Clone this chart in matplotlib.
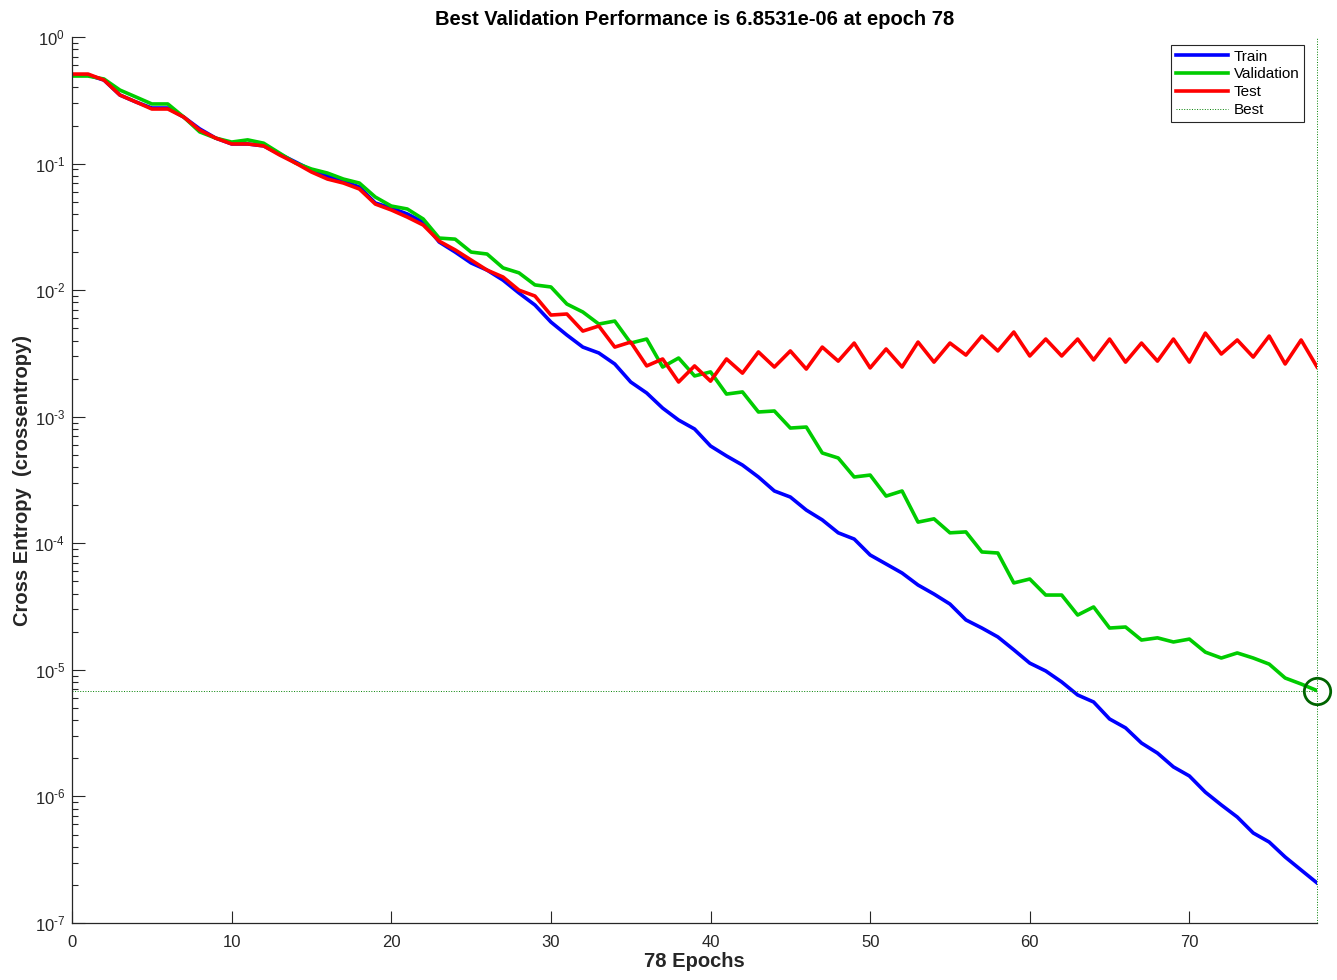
"""Training performance plot (cross entropy per epoch, log scale)."""

import numpy as np
import matplotlib

matplotlib.use("Agg")

import matplotlib.pyplot as plt
from matplotlib.ticker import LogLocator, FixedLocator, NullFormatter, FuncFormatter

plt.rcParams["font.family"] = ["Liberation Sans", "DejaVu Sans"]
plt.rcParams["mathtext.fontset"] = "custom"
plt.rcParams["mathtext.rm"] = "Liberation Sans"
plt.rcParams["axes.unicode_minus"] = False

# epoch-by-epoch cross entropy
train = [
    0.501, 0.501, 0.457, 0.348, 0.307, 0.275, 0.275, 0.233, 0.188, 0.159,
    0.143, 0.143, 0.138, 0.119, 0.103, 0.0889, 0.0797, 0.0728, 0.0653, 0.0488,
    0.0446, 0.0400, 0.0345, 0.0240, 0.0200, 0.0164, 0.0144, 0.0120, 0.00949, 0.00763,
    0.00560, 0.00442, 0.00355, 0.00319, 0.00261, 0.00188, 0.00154, 0.00117, 0.000941, 0.000800,
    0.000587, 0.000490, 0.000415, 0.000334, 0.000259, 0.000232, 0.000183, 0.000153, 0.000121, 0.000108,
    8.08e-5, 6.86e-5, 5.82e-5, 4.68e-5, 3.97e-5, 3.31e-5, 2.48e-5, 2.14e-5, 1.82e-5, 1.44e-5,
    1.13e-5, 9.80e-6, 8.02e-6, 6.33e-6, 5.57e-6, 4.09e-6, 3.48e-6, 2.64e-6, 2.20e-6, 1.71e-6,
    1.45e-6, 1.08e-6, 8.56e-7, 6.87e-7, 5.14e-7, 4.36e-7, 3.32e-7, 2.62e-7, 2.07e-7,
]
validation = [
    0.492, 0.492, 0.466, 0.381, 0.336, 0.296, 0.296, 0.233, 0.178, 0.159,
    0.148, 0.154, 0.145, 0.121, 0.101, 0.0906, 0.0842, 0.0755, 0.0702, 0.0544,
    0.0462, 0.0438, 0.0365, 0.0258, 0.0253, 0.0200, 0.0193, 0.0150, 0.0137, 0.0110,
    0.0106, 0.00777, 0.00672, 0.00540, 0.00570, 0.00382, 0.00411, 0.00247, 0.00291, 0.00210,
    0.00226, 0.00151, 0.00157, 0.00109, 0.00111, 0.000814, 0.000829, 0.000517, 0.000472, 0.000334,
    0.000346, 0.000236, 0.000259, 0.000147, 0.000156, 0.000121, 0.000123, 8.54e-5, 8.38e-5, 4.86e-5,
    5.22e-5, 3.90e-5, 3.90e-5, 2.71e-5, 3.14e-5, 2.14e-5, 2.18e-5, 1.72e-5, 1.79e-5, 1.66e-5,
    1.75e-5, 1.38e-5, 1.24e-5, 1.36e-5, 1.24e-5, 1.11e-5, 8.62e-6, 7.73e-6, 6.8531e-6,
]
test = [
    0.510, 0.510, 0.457, 0.348, 0.307, 0.270, 0.270, 0.233, 0.184, 0.159,
    0.143, 0.143, 0.138, 0.117, 0.101, 0.0858, 0.0755, 0.0702, 0.0630, 0.0479,
    0.0430, 0.0378, 0.0327, 0.0244, 0.0208, 0.0173, 0.0144, 0.0127, 0.0100, 0.00899,
    0.00636, 0.00648, 0.00475, 0.00521, 0.00355, 0.00389, 0.00252, 0.00286, 0.00188, 0.00252,
    0.00191, 0.00286, 0.00221, 0.00325, 0.00247, 0.00331, 0.00238, 0.00355, 0.00275, 0.00382,
    0.00243, 0.00343, 0.00247, 0.00389, 0.00270, 0.00382, 0.00307, 0.00434, 0.00331, 0.00467,
    0.00302, 0.00411, 0.00302, 0.00411, 0.00281, 0.00411, 0.00270, 0.00382, 0.00275, 0.00411,
    0.00270, 0.00458, 0.00313, 0.00404, 0.00296, 0.00434, 0.00261, 0.00404, 0.00247,
]
best_epoch = 78
best_perf = 6.8531e-06
x_ticks = [0, 10, 20, 30, 40, 50, 60, 70]

epochs = np.arange(len(train))
axis_color = "#262626"
best_color = "#008000"


def _pow10(value, _pos):
    # MATLAB-style 10^n with a plain hyphen in the exponent
    exp = int(round(np.log10(value)))
    sign = r"\text{-}" if exp < 0 else ""
    return rf"$\mathdefault{{10^{{{sign}{abs(exp)}}}}}$"


fig = plt.figure(figsize=(13.37, 9.8), dpi=100)
ax = fig.add_axes([0.0539, 0.0582, 0.9312, 0.904])

ax.semilogy(epochs, train, color="#0000ff", lw=2.6, label="Train")
ax.semilogy(epochs, validation, color="#00cc00", lw=2.6, label="Validation")
ax.semilogy(epochs, test, color="#ff0000", lw=2.6, label="Test")

# best-validation guides
ax.axhline(best_perf, color=best_color, lw=0.7, ls=":", label="Best")
ax.axvline(best_epoch, color=best_color, lw=0.7, ls=":", clip_on=False)
ax.plot([best_epoch], [best_perf], "o", mfc="none", mec="#006400",
        ms=19, mew=2, clip_on=False)

ax.set_xlim(0, 78)
ax.set_ylim(1e-7, 1)
ax.xaxis.set_major_locator(FixedLocator(x_ticks))
ax.yaxis.set_major_locator(LogLocator(base=10, numticks=10))
ax.yaxis.set_major_formatter(FuncFormatter(_pow10))
ax.yaxis.set_minor_locator(LogLocator(base=10, subs=np.arange(2, 10), numticks=20))
ax.yaxis.set_minor_formatter(NullFormatter())

for side in ("top", "right"):
    ax.spines[side].set_visible(False)
for side in ("left", "bottom"):
    ax.spines[side].set_color(axis_color)
    ax.spines[side].set_linewidth(0.9)
ax.tick_params(which="major", direction="in", length=9, width=0.8,
               colors=axis_color, labelsize=12)
ax.tick_params(which="minor", direction="in", length=4.5, width=0.8,
               colors=axis_color)
ax.tick_params(axis="x", which="major", pad=9)
ax.tick_params(axis="y", which="major", pad=5)

ax.set_title(f"Best Validation Performance is {best_perf:.4e} at epoch {best_epoch}",
             fontsize=14.5, fontweight="bold", pad=9)
ax.set_xlabel(f"{len(train) - 1} Epochs", fontsize=14.5, fontweight="bold",
              color=axis_color, labelpad=1)
ax.set_ylabel("Cross Entropy  (crossentropy)", fontsize=14.5, fontweight="bold",
              color=axis_color, labelpad=2)

leg = ax.legend(loc="upper right", bbox_to_anchor=(0.9896, 0.991),
                borderaxespad=0, fontsize=11, handlelength=3.4,
                fancybox=False, framealpha=1, borderpad=0.3,
                labelspacing=0.25, handletextpad=0.4)
leg.get_frame().set_edgecolor(axis_color)
leg.get_frame().set_linewidth(0.8)

fig.savefig("out.png", dpi=100)
